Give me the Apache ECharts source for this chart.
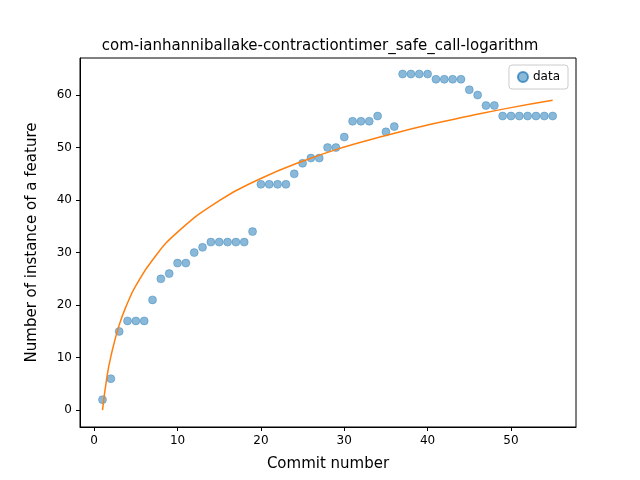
<!DOCTYPE html>
<html><head><meta charset="utf-8">
<script src="https://cdn.jsdelivr.net/npm/echarts@6/dist/echarts.min.js"></script>
<style>body{margin:0}#c{width:640px;height:480px}</style>
</head><body><div id="c"></div>
<script>
// observed points: commit number -> count
const commits = [];
for (let i = 1; i <= 55; i++) commits.push(i);
const counts = [2,6,15,17,17,17,21,25,26,28,28,30,31,32,32,32,32,32,34,43,43,43,43,45,47,48,48,50,50,52,
  55,55,55,56,53,54,64,64,64,64,63,63,63,63,61,60,58,58,56,56,56,56,56,56,56];
// fitted curve
const fitX = [1,1.5,2,3,4,5,7,10,15,20,25,30,35,40,45,50,55];
const fitY = [0,6,10.2,16.2,20.4,23.7,28.6,33.9,39.9,44.1,47.4,50.1,52.3,54.3,56.0,57.6,59];
const xTicks = [0,10,20,30,40,50];
const yTicks = [0,10,20,30,40,50,60];

const font = 'DejaVu Sans';
const chart = echarts.init(document.getElementById('c'));
chart.setOption({
  animation: false,
  textStyle: {fontFamily: font},
  title: {text: 'com-ianhanniballake-contractiontimer_safe_call-logarithm', left: 'center', top: 34,
    textStyle: {fontFamily: font, fontSize: 15, fontWeight: 'normal', color: '#000'}},
  grid: {left: 80, right: 64, top: 58, bottom: 53, show: true, borderColor: '#000', borderWidth: 1},
  legend: {right: 72, top: 65, orient: 'vertical', data: [{name: 'data', icon: 'circle'}],
    itemWidth: 10, itemHeight: 10, borderColor: '#ccc', borderWidth: 1, borderRadius: 3, padding: [6, 8],
    textStyle: {fontFamily: font, fontSize: 12, color: '#000'}},
  xAxis: {type: 'value', min: -1.7, max: 57.8, name: 'Commit number', nameLocation: 'middle', nameGap: 30,
    nameTextStyle: {fontFamily: font, fontSize: 15, color: '#000'},
    axisLine: {onZero: false, lineStyle: {color: '#000'}}, splitLine: {show: false},
    axisTick: {customValues: xTicks, length: 4, lineStyle: {color: '#000'}},
    axisLabel: {customValues: xTicks, color: '#000', fontSize: 12}},
  yAxis: {type: 'value', min: -3.2, max: 67.05, name: 'Number of instance of a feature', nameLocation: 'middle', nameGap: 40,
    nameTextStyle: {fontFamily: font, fontSize: 15, color: '#000'},
    axisLine: {show: true, onZero: false, lineStyle: {color: '#000'}}, splitLine: {show: false},
    axisTick: {show: true, customValues: yTicks, length: 4, lineStyle: {color: '#000'}},
    axisLabel: {customValues: yTicks, color: '#000', fontSize: 12}},
  series: [
    {name: 'data', type: 'scatter', symbolSize: 8,
      itemStyle: {color: 'rgba(31,119,180,0.65)', borderColor: 'rgba(31,119,180,0.9)', borderWidth: 0.5},
      data: commits.map((x, i) => [x, counts[i]])},
    {name: 'fit', type: 'line', smooth: true, showSymbol: false,
      lineStyle: {color: '#ff7f0e', width: 1.5},
      data: fitX.map((x, i) => [x, fitY[i]])}
  ]
});
</script></body></html>
